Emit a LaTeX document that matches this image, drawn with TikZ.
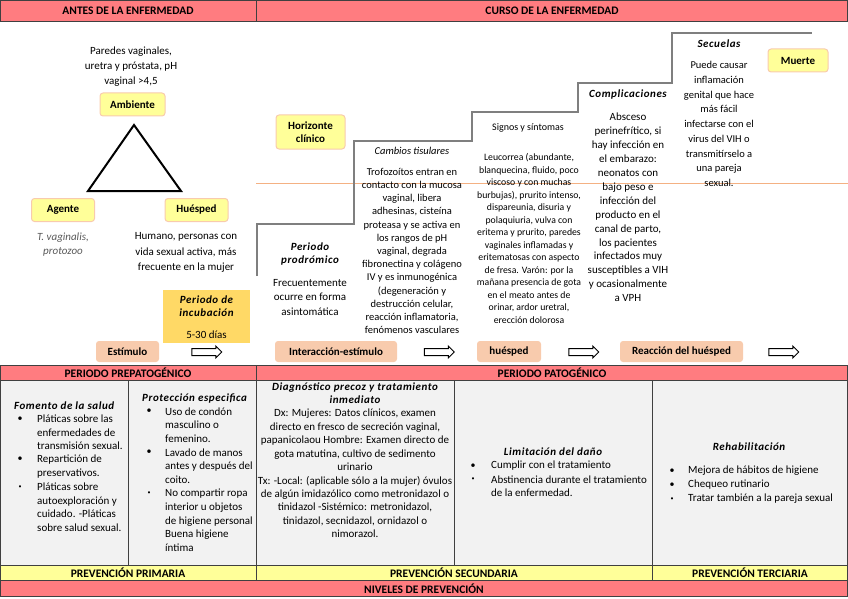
\documentclass[tikz,border=0pt]{standalone}
\usepackage{fontspec}
\setmainfont{Carlito}
\usetikzlibrary{shapes.arrows}
\definecolor{hdrpink}{HTML}{FF7C80}
\definecolor{lightyel}{HTML}{FFFF99}
\definecolor{peach}{HTML}{F8CBAD}
\definecolor{gold}{HTML}{FFD966}
\definecolor{cellgray}{HTML}{F2F2F2}
\definecolor{gridc}{HTML}{404040}
\definecolor{stairc}{HTML}{7F7F7F}
\definecolor{horiz}{HTML}{F4B183}
\definecolor{txtgray}{HTML}{595959}

\begin{document}
\begin{tikzpicture}[x=1pt,y=-1pt,
  hdr/.style={font=\fontsize{11.5}{12}\selectfont\bfseries},
  tag/.style={draw=peach, line width=1pt, fill=lightyel, rounded corners=3pt, font=\fontsize{11}{12.5}\selectfont\bfseries, minimum height=23pt, inner sep=1pt, align=center},
  pill/.style={fill=peach, rounded corners=3pt, font=\fontsize{11}{12}\selectfont\bfseries, minimum height=21pt, inner sep=1pt},
  blk/.style={single arrow, draw, line width=1pt, fill=white, minimum height=30pt, inner sep=3pt, single arrow head extend=2.5pt, single arrow head indent=0pt},
  body/.style={font=\fontsize{11}{13}\selectfont, align=center, inner sep=0pt},
  ttl/.style={font=\fontsize{11}{13}\selectfont\bfseries\itshape\addfontfeatures{LetterSpace=5}, align=center, inner sep=0pt},
  cellt/.style={font=\fontsize{11}{13.6}\selectfont, align=left, inner sep=0pt, anchor=west},
  bul/.style={font=\fontsize{10}{10}\selectfont, inner sep=0pt},
  sbul/.style={font=\fontsize{6}{7}\selectfont, inner sep=0pt}
]
  \useasboundingbox (0,0) rectangle (848,599);

  % --- encabezado ---
  \filldraw[fill=hdrpink, draw=gridc, line width=0.8pt] (0.4,0.5) rectangle (256,21) (256,0.5) rectangle (847.6,21);
  \node[hdr] (antes) at (128,11) {ANTES DE LA ENFERMEDAD};
  \node[hdr] (curso) at (552,11) {CURSO DE LA ENFERMEDAD};

  % --- horizonte clinico y escalera ---
  \draw[horiz, line width=0.6pt] (256,183) -- (848,183);
  \draw[stairc, line width=1.3pt] (257,276) |- (354,224) |- (472,141) |- (578,112) |- (672,83) |- (812,33);

  % --- triada ---
  \node[body, font=\fontsize{11}{15}\selectfont] (paredes) at (131,67) {Paredes vaginales,\\uretra y próstata, pH\\vaginal >4,5};
  \node[tag, minimum width=65pt] (ambiente) at (132.5,104.5) {Ambiente};
  \draw[line width=2pt] (134,125) -- (88,191) -- (181,191) -- cycle;
  \node[tag, minimum width=63pt] (agente) at (63,210) {Agente};
  \node[tag, minimum width=63pt] (huesped) at (196.5,210) {Huésped};
  \node[body, text=txtgray, font=\fontsize{11}{14}\selectfont\itshape] (agentetxt) at (63,245) {T. vaginalis,\\protozoo};
  \node[body, font=\fontsize{11}{15.5}\selectfont] (huespedtxt) at (186,252.5) {Humano, personas con\\vida sexual activa, más\\frecuente en la mujer};

  % --- incubacion ---
  \node[fill=gold, minimum width=87pt, minimum height=53pt, inner sep=0pt] (incub) at (206.5,316.5) {};
  \node[ttl] (incubtit) at (206.5,306.5) {Periodo de\\incubación};
  \node[body] (incubdias) at (206.5,335) {5-30 días};

  % --- curso ---
  \node[tag, minimum width=69pt, minimum height=34pt] (horizonte) at (310.5,132) {Horizonte\\clínico};
  \node[ttl] (prodro) at (310,254.5) {Periodo\\prodrómico};
  \node[body, font=\fontsize{11}{14.5}\selectfont] (prodrotxt) at (310,297.5) {Frecuentemente\\ocurre en forma\\asintomática};
  \node[body, font=\fontsize{10.5}{10}\selectfont\itshape] (cambiostit) at (412,151) {Cambios tisulares};
  \node[body, font=\fontsize{10.5}{13.2}\selectfont] (cambios) at (412,251) {Trofozoítos entran en\\contacto con la mucosa\\vaginal, libera\\adhesinas, cisteína\\proteasa y se activa en\\los rangos de pH\\vaginal, degrada\\fibronectina y colágeno\\IV y es inmunogénica\\(degeneración y\\destrucción celular,\\reacción inflamatoria,\\fenómenos vasculares};
  \node[body, font=\fontsize{10}{10}\selectfont] (signostit) at (528,128) {Signos y síntomas};
  \node[body, font=\fontsize{9.75}{12.5}\selectfont] (signos) at (529,238.5) {Leucorrea (abundante,\\blanquecina, fluido, poco\\viscoso y con muchas\\burbujas), prurito intenso,\\dispareunia, disuria y\\polaquiuria, vulva con\\eritema y prurito, paredes\\vaginales inflamadas y\\eritematosas con aspecto\\de fresa. Varón: por la\\mañana presencia de gota\\en el meato antes de\\orinar, ardor uretral,\\erección dolorosa};
  \node[ttl] (compltit) at (628,95) {Complicaciones};
  \node[body, font=\fontsize{11}{13.9}\selectfont] (compl) at (628,207.5) {Absceso\\perinefrítico, si\\hay infección en\\el embarazo:\\neonatos con\\bajo peso e\\infección del\\producto en el\\canal de parto,\\los pacientes\\infectados muy\\susceptibles a VIH\\y ocasionalmente\\a VPH};
  \node[ttl] (secutit) at (719,44) {Secuelas};
  \node[body, font=\fontsize{10.5}{14.75}\selectfont] (secu) at (719,124) {Puede causar\\inflamación\\genital que hace\\más fácil\\infectarse con el\\virus del VIH o\\transmitírselo a\\una pareja\\sexual.};
  \node[tag, minimum width=60pt] (muerte) at (798,60.5) {Muerte};

  % --- secuencia ---
  \node[pill, minimum width=63pt] (estimulo) at (127.5,351.5) {Estímulo};
  \node[pill, minimum width=122pt] (interac) at (336,351.5) {Interacción-estímulo};
  \node[pill, minimum width=64pt] (huespedb) at (509,351.5) {huésped};
  \node[pill, minimum width=123pt] (reaccion) at (681.5,351.5) {Reacción del huésped};
  \foreach \x/\n in {205/arrA,437.5/arrB,582/arrC,782/arrD} {\node[blk] (\n) at (\x,352) {};}

  % --- tabla de prevencion ---
  \filldraw[fill=hdrpink, draw=gridc, line width=0.8pt] (0.4,365) rectangle (256,380) (256,365) rectangle (847.6,380);
  \foreach \a/\b in {0.4/128,128/256,256/454,454/652,652/847.6} {\filldraw[fill=cellgray, draw=gridc, line width=0.8pt] (\a,380) rectangle (\b,565);}
  \filldraw[fill=lightyel, draw=gridc, line width=0.8pt] (0.4,565) rectangle (256,580) (256,565) rectangle (652,580) (652,565) rectangle (847.6,580);
  \filldraw[fill=hdrpink, draw=gridc, line width=0.8pt] (0.4,580) rectangle (847.6,596);
  \node[hdr] (prepat) at (128,373) {PERIODO PREPATOGÉNICO};
  \node[hdr] (pat) at (552,373) {PERIODO PATOGÉNICO};
  \node[hdr] (prim) at (128,573) {PREVENCIÓN PRIMARIA};
  \node[hdr] (secund) at (454,573) {PREVENCIÓN SECUNDARIA};
  \node[hdr] (terc) at (750,573) {PREVENCIÓN TERCIARIA};
  \node[hdr] (niveles) at (424,588.5) {NIVELES DE PREVENCIÓN};

  % fomento
  \node[ttl, anchor=west] (fomtit) at (14,406) {Fomento de la salud};
  \node[cellt] (fom1) at (37,432.6) {Pláticas sobre las\\enfermedades de\\transmisión sexual.};
  \node[cellt] (fom2) at (37,466.6) {Repartición de\\preservativos.};
  \node[cellt] (fom3) at (37,507.4) {Pláticas sobre\\autoexploración y\\cuidado. -Pláticas\\sobre salud sexual.};
  \node[bul] (fomb1) at (20,419.3) {\textbullet};
  \node[bul] (fomb2) at (20,459.3) {\textbullet};
  \node[sbul] (fomb3) at (20,486.7) {\textbullet};

  % proteccion
  \node[ttl, anchor=west] (protit) at (142,398) {Protección especifica};
  \node[cellt] (pro1) at (165,425) {Uso de condón\\masculino o\\femenino.};
  \node[cellt] (pro2) at (165,466) {Lavado de manos\\antes y después del\\coito.};
  \node[cellt] (pro3) at (165,520.3) {No compartir ropa\\interior u objetos\\de higiene personal\\Buena higiene\\íntima};
  \node[bul] (prob1) at (149,411.7) {\textbullet};
  \node[bul] (prob2) at (149,452.3) {\textbullet};
  \node[sbul] (prob3) at (149,493.3) {\textbullet};

  % diagnostico
  \node[ttl] (diagtit) at (355,393.5) {Diagnóstico precoz y tratamiento\\inmediato};
  \node[body, font=\fontsize{11}{13.45}\selectfont] (diag) at (355,473.5) {Dx: Mujeres: Datos clínicos, examen\\directo en fresco de secreción vaginal,\\papanicolaou Hombre: Examen directo de\\gota matutina, cultivo de sedimento\\urinario\\Tx: -Local: (aplicable sólo a la mujer) óvulos\\de algún imidazólico como metronidazol o\\tinidazol -Sistémico: metronidazol,\\tinidazol, secnidazol, ornidazol o\\nimorazol.};

  % limitacion
  \node[ttl] (limtit) at (553,452) {Limitación del daño};
  \node[cellt] (lim1) at (491,466) {Cumplir con el tratamiento};
  \node[cellt] (lim2) at (491,486.2) {Abstinencia durante el tratamiento\\de la enfermedad.};
  \node[bul] (limb1) at (473,466) {\textbullet};
  \node[sbul] (limb2) at (473,479.3) {\textbullet};

  % rehabilitacion
  \node[ttl] (rehtit) at (749,447) {Rehabilitación};
  \node[cellt] (reh1) at (688,471) {Mejora de hábitos de higiene};
  \node[cellt] (reh2) at (688,485) {Chequeo rutinario};
  \node[cellt] (reh3) at (688,499) {Tratar también a la pareja sexual};
  \node[bul] (rehb1) at (672,471) {\textbullet};
  \node[bul] (rehb2) at (672,485) {\textbullet};
  \node[sbul] (rehb3) at (672,499) {\textbullet};
\end{tikzpicture}
\end{document}
